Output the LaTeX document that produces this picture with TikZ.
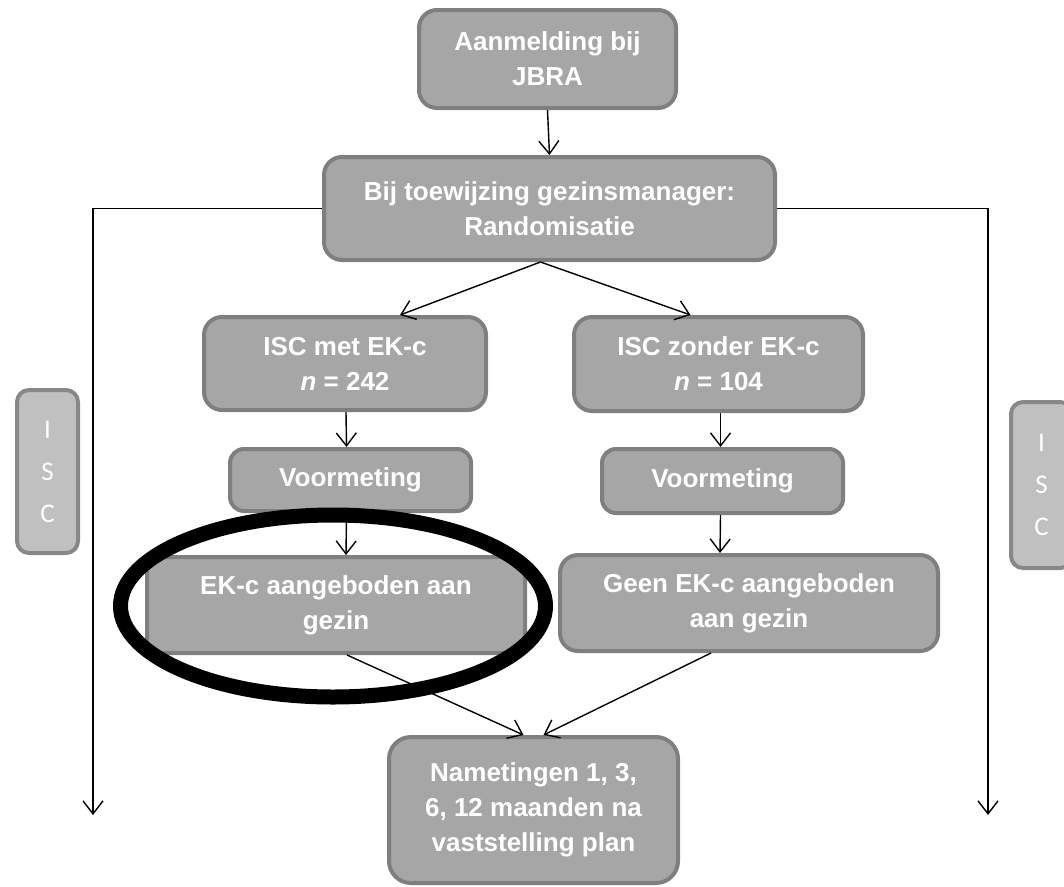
\documentclass[tikz,border=0pt]{standalone}
\usepackage{fontspec}
\setmainfont{Liberation Sans}
\newfontfamily\iscfont{Carlito}
\usetikzlibrary{arrows.meta,shapes.geometric,calc}
\definecolor{boxfill}{HTML}{A6A6A6}
\definecolor{boxline}{HTML}{7F7F7F}
\definecolor{sidefill}{HTML}{C0C0C0}
\definecolor{sideline}{HTML}{888888}
\begin{document}
\begin{tikzpicture}[x=1pt,y=-1pt,
  box/.style={draw=boxline, fill=boxfill, line width=4pt, rounded corners=18pt,
    inner sep=0pt, align=center, text=white,
    font=\fontsize{26}{35}\selectfont\bfseries},
  sidebox/.style={draw=sideline, fill=sidefill, line width=4pt, rounded corners=12pt,
    inner sep=0pt, align=center, text=white,
    font=\fontsize{27}{42}\selectfont\iscfont},
  arr/.style={draw=black, line width=1.4pt, -{Straight Barb[length=13pt,width=20pt]}},
  ring/.style={draw=black, ellipse, line width=15pt, fill=none, inner sep=0pt}
]
\clip (0,0) rectangle (1064,886);
\fill[white] (0,0) rectangle (1064,886);

\node[box, minimum width=257, minimum height=98] (aan) at (547.5,59) {Aanmelding bij\\JBRA};
\node[box, minimum width=451, minimum height=103] (rand) at (549.5,208.5) {Bij toewijzing gezinsmanager:\\Randomisatie};
\node[box, minimum width=282, minimum height=93] (met) at (345,363.5) {ISC met EK-c\\\textit{n} = 242};
\node[box, minimum width=289, minimum height=94] (zon) at (718.5,364) {ISC zonder EK-c\\\textit{n} = 104};
\node[box, minimum width=241, minimum height=62, rounded corners=14pt] (vl) at (350.5,480) {Voormeting};
\node[box, minimum width=241, minimum height=64, rounded corners=14pt] (vr) at (722.5,481) {Voormeting};
\node[box, minimum width=378, minimum height=96, rounded corners=5pt] (ek) at (336,605) {EK-c aangeboden aan\\gezin};
\node[box, minimum width=378, minimum height=96] (geen) at (749,603) {Geen EK-c aangeboden\\aan gezin};
\node[box, minimum width=289, minimum height=146, rounded corners=22pt] (nam) at (533.5,810) {Nametingen 1, 3,\\6, 12 maanden na\\vaststelling plan};

\node[sidebox, minimum width=61, minimum height=163] (isl) at (47.5,471.5) {I\\S\\C};
\node[sidebox, minimum width=61, minimum height=166] (isr) at (1041.5,485) {I\\S\\C};

\coordinate (lend) at (93,815);
\coordinate (rend) at (988,815);

\draw[arr] (aan.south) -- (rand.north);
\draw[arr] ([xshift=-9pt]rand.south) -- ([xshift=55pt]met.north);
\draw[arr] ([xshift=-9pt]rand.south) -- ([xshift=-28pt]zon.north);
\draw[arr] ([xshift=1pt]met.south) -- ([xshift=-4pt]vl.north);
\draw[arr] ([xshift=2pt]zon.south) -- ([xshift=-2pt]vr.north);
\draw[arr] ([xshift=-4pt]vl.south) -- ([xshift=10pt]ek.north);
\draw[arr] ([xshift=-2pt]vr.south) -- ([xshift=-29pt]geen.north);
\draw[arr] ([xshift=11pt]ek.south) -- ([xshift=-10pt]nam.north);
\draw[arr] ([xshift=-38pt]geen.south) -- ([xshift=10pt]nam.north);
\draw[arr] (rand.west) -| (lend);
\draw[arr] (rand.east) -| (rend);

\node[ring, minimum width=425, minimum height=182] (circ) at (333,606) {};
\end{tikzpicture}
\end{document}
